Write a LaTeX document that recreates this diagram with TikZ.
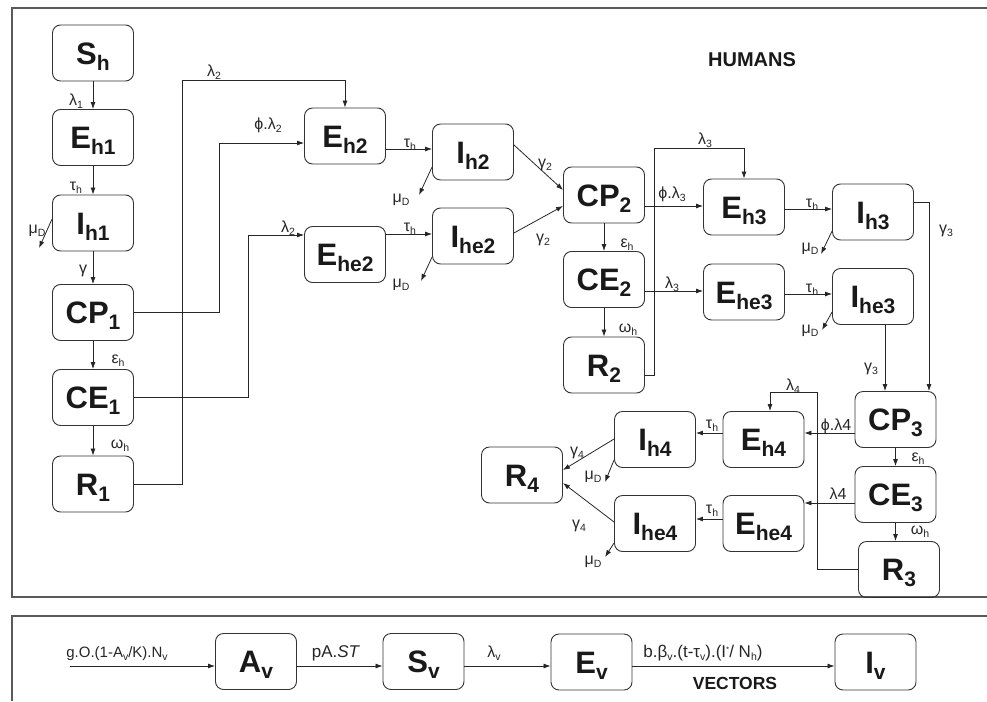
\documentclass[tikz,border=0pt]{standalone}
\usepackage{fontspec}
\setmainfont{Liberation Sans}
\usetikzlibrary{arrows.meta}
% subscripts inside the compartment boxes and in the rate labels
\newcommand\bsub[1]{\raisebox{-6pt}{\fontsize{21}{21}\selectfont\bfseries #1}}
\newcommand\lsub[1]{\raisebox{-2.8pt}{\fontsize{10.5}{10.5}\selectfont #1}}
\definecolor{edgec}{HTML}{262626}
\definecolor{boxc}{HTML}{333333}
\definecolor{framec}{HTML}{5A5A5A}
\begin{document}
\begin{tikzpicture}[x=1pt,y=-1pt,
  box/.style={draw=boxc, line width=0.9pt, rounded corners=8pt,
    minimum width=81pt, minimum height=56pt, inner sep=0pt,
    text height=22pt, text depth=0pt,
    font=\fontsize{31}{31}\selectfont\bfseries, text=black!90},
  arr/.style={draw=edgec, line width=0.8pt, -{Latex[length=7pt,width=5pt]}},
  lab/.style={inner sep=0pt, text height=11pt, text depth=0pt,
    font=\fontsize{16}{16}\selectfont, text=black!85},
  title/.style={inner sep=0pt, font=\bfseries, text=black!90},
  frame/.style={draw=framec, line width=1.2pt}]
\useasboundingbox (0,0) rectangle (987,701);

% panel frames
\draw[frame] (987,8) -- (12,8) -- (12,597) -- (987,597);
\draw[frame] (987,616) -- (12,616) -- (12,701);

\node[title, font=\fontsize{20}{20}\selectfont\bfseries] (hum) at (752,60) {HUMANS};

% ---------- human compartments ----------
\node[box] (Sh)  at (93,53)    {S\bsub{h}};
\node[box] (Eh1) at (93,137.5) {E\bsub{h1}};
\node[box] (Ih1) at (93,223)   {I\bsub{h1}};
\node[box] (CP1) at (93,312.5) {CP\bsub{1}};
\node[box] (CE1) at (93,397.5) {CE\bsub{1}};
\node[box] (R1)  at (93,484)   {R\bsub{1}};

\node[box] (Eh2)  at (345,136)   {E\bsub{h2}};
\node[box] (Ih2)  at (473,152)   {I\bsub{h2}};
\node[box] (Ehe2) at (345,254.5) {E\bsub{he2}};
\node[box] (Ihe2) at (473,236)   {I\bsub{he2}};

\node[box] (CP2) at (604,195)   {CP\bsub{2}};
\node[box] (CE2) at (604,279.5) {CE\bsub{2}};
\node[box] (R2)  at (604,365)   {R\bsub{2}};

\node[box] (Eh3)  at (744,207)   {E\bsub{h3}};
\node[box] (Ehe3) at (744,292)   {E\bsub{he3}};
\node[box] (Ih3)  at (873,212)   {I\bsub{h3}};
\node[box] (Ihe3) at (873,296.5) {I\bsub{he3}};

\node[box] (CP3) at (895.5,419.5) {CP\bsub{3}};
\node[box] (CE3) at (895.5,494.5) {CE\bsub{3}};
\node[box] (R3)  at (899,569.5)   {R\bsub{3}};

\node[box] (Eh4)  at (763.5,439.5) {E\bsub{h4}};
\node[box] (Ehe4) at (763.5,523.5) {E\bsub{he4}};
\node[box] (Ih4)  at (655,439.5)   {I\bsub{h4}};
\node[box] (Ihe4) at (655,523.5)   {I\bsub{he4}};
\node[box] (R4)   at (522,475)     {R\bsub{4}};

% ---------- first column ----------
\draw[arr] (Sh.south) -- (Eh1.north);
\draw[arr] (Eh1.south) -- (Ih1.north);
\draw[arr] (Ih1.south) -- (CP1.north);
\draw[arr] (CP1.south) -- (CE1.north);
\draw[arr] (CE1.south) -- (R1.north);
\draw[arr] (Ih1.west |- 0,219) -- ++(-13,29);
\node[lab] (lSh)  at (76,100) {λ\lsub{1}};
\node[lab] (lEh1) at (76,185) {τ\lsub{h}};
\node[lab] (lIh1) at (83,268) {γ};
\node[lab] (lCP1) at (118,358) {ε\lsub{h}};
\node[lab] (lCE1) at (120,443) {ω\lsub{h}};
\node[lab] (mu1)  at (37,228) {μ\lsub{D}};

% ---------- second stage ----------
\draw[arr] (R1.east) -| (182,80) -| (Eh2.north);
\draw[arr] (CP1.east) -| (219,143) -- (Eh2.west |- 0,143);
\draw[arr] (CE1.east) -| (248,235) -- (Ehe2.west |- 0,235);
\node[lab] (lR1)   at (214,71)  {λ\lsub{2}};
\node[lab] (lCP1b) at (268,124) {ϕ.λ\lsub{2}};
\node[lab] (lCE1b) at (288,227) {λ\lsub{2}};

\draw[arr] (Eh2.east |- 0,149) -- (Ih2.west |- 0,149);
\draw[arr] (Ehe2.east |- 0,234) -- (Ihe2.west |- 0,234);
\draw[arr] (Ih2.west |- 0,167) -- ++(-13,28);
\draw[arr] (Ihe2.west |- 0,257) -- ++(-11,24);
\draw[arr] (Ih2.east |- 0,145) -- (CP2.west |- 0,190);
\draw[arr] (Ihe2.east |- 0,233) -- (CP2.west |- 0,206);
\node[lab] (t2a)  at (410,142) {τ\lsub{h}};
\node[lab] (t2b)  at (410,226) {τ\lsub{h}};
\node[lab] (mu2a) at (401,197) {μ\lsub{D}};
\node[lab] (mu2b) at (401,282) {μ\lsub{D}};
\node[lab] (g2a)  at (545,162) {γ\lsub{2}};
\node[lab] (g2b)  at (543,237) {γ\lsub{2}};

% ---------- third stage ----------
\draw[arr] (CP2.south) -- (CE2.north);
\draw[arr] (CE2.south) -- (R2.north);
\draw[arr] (R2.east |- 0,375) -| (654,148) -| (Eh3.north);
\draw[arr] (CP2.east |- 0,206) -- (Eh3.west |- 0,206);
\draw[arr] (CE2.east |- 0,291) -- (Ehe3.west |- 0,291);
\draw[arr] (Eh3.east |- 0,209) -- (Ih3.west |- 0,209);
\draw[arr] (Ehe3.east |- 0,294) -- (Ihe3.west |- 0,294);
\draw[arr] (Ih3.west |- 0,231) -- ++(-11,23);
\draw[arr] (Ihe3.west |- 0,312) -- ++(-10,18);
\draw[arr] (Ih3.east |- 0,202) -| ([xshift=33.5pt]CP3.north);
\draw[arr] ([xshift=12pt]Ihe3.south) -- ([xshift=12pt]Ihe3.south |- CP3.north);
\node[lab] (e2)   at (627,242) {ε\lsub{h}};
\node[lab] (w2)   at (628,327) {ω\lsub{h}};
\node[lab] (l3a)  at (705,139) {λ\lsub{3}};
\node[lab] (l3b)  at (672,193) {ϕ.λ\lsub{3}};
\node[lab] (l3c)  at (672,283) {λ\lsub{3}};
\node[lab] (t3a)  at (812,202) {τ\lsub{h}};
\node[lab] (t3b)  at (812,287) {τ\lsub{h}};
\node[lab] (mu3a) at (810,246) {μ\lsub{D}};
\node[lab] (mu3b) at (810,328) {μ\lsub{D}};
\node[lab] (g3a)  at (946,228) {γ\lsub{3}};
\node[lab] (g3b)  at (871,366) {γ\lsub{3}};

% ---------- fourth stage ----------
\draw[arr] (CP3.south) -- (CE3.north);
\draw[arr] (CE3.south) -- (R3.north -| CE3.south);
\draw[arr] (R3.west |- 0,569) -| (817,392) -| ([xshift=6.5pt]Eh4.north);
\draw[arr] (CP3.west |- 0,433) -- (Eh4.east |- 0,433);
\draw[arr] (CE3.west |- 0,503) -- (Ehe4.east |- 0,503);
\draw[arr] (Eh4.west |- 0,433) -- (Ih4.east |- 0,433);
\draw[arr] (Ehe4.west |- 0,519) -- (Ihe4.east |- 0,519);
\draw[arr] (Ih4.west |- 0,439) -- (R4.east |- 0,470);
\draw[arr] (Ihe4.west |- 0,522) -- (R4.east |- 0,483);
\draw[arr] (Ih4.west |- 0,460) -- ++(-9,22);
\draw[arr] (Ihe4.west |- 0,543) -- ++(-9,14);
\node[lab] (e3)   at (918,456) {ε\lsub{h}};
\node[lab] (w3)   at (920,529) {ω\lsub{h}};
\node[lab] (l4a)  at (793,385) {λ\lsub{4}};
\node[lab] (l4b)  at (836,425) {ϕ.λ4};
\node[lab] (l4c)  at (838,494) {λ4};
\node[lab] (t4a)  at (712,423) {τ\lsub{h}};
\node[lab] (t4b)  at (712,508) {τ\lsub{h}};
\node[lab] (g4a)  at (577,450) {γ\lsub{4}};
\node[lab] (g4b)  at (579,523) {γ\lsub{4}};
\node[lab] (mu4a) at (593,474) {μ\lsub{D}};
\node[lab] (mu4b) at (593,559) {μ\lsub{D}};

% ---------- vectors ----------
\node[box] (Av) at (256,661.5)   {A\bsub{v}};
\node[box] (Sv) at (423.5,661.5) {S\bsub{v}};
\node[box] (Ev) at (591.5,662)   {E\bsub{v}};
\node[box] (Iv) at (875.5,662)   {I\bsub{v}};
\coordinate (egg) at (70,666);
\draw[arr] (egg) -- (Av.west |- egg);
\draw[arr] (Av.east |- egg) -- (Sv.west |- egg);
\draw[arr] (Sv.east |- egg) -- (Ev.west |- egg);
\draw[arr] (Ev.east |- egg) -- (Iv.west |- egg);
\node[lab, font=\fontsize{15}{15}\selectfont] (lin) at (117,652) {g.O.(1-A\lsub{v}/K).N\lsub{v}};
\node[lab, font=\fontsize{17}{17}\selectfont] (lpa) at (336,652) {pA.\textit{ST}};
\node[lab] (llv) at (494,652) {λ\lsub{v}};
\node[lab, font=\fontsize{17}{17}\selectfont] (lbb) at (703,652) {b.β\lsub{v}.(t-τ\lsub{v}).(I\raisebox{5pt}{\fontsize{8}{8}\selectfont *}/ N\lsub{h})};
\node[title, font=\fontsize{17.5}{17.5}\selectfont\bfseries] (vec) at (735,683) {VECTORS};
\end{tikzpicture}
\end{document}
